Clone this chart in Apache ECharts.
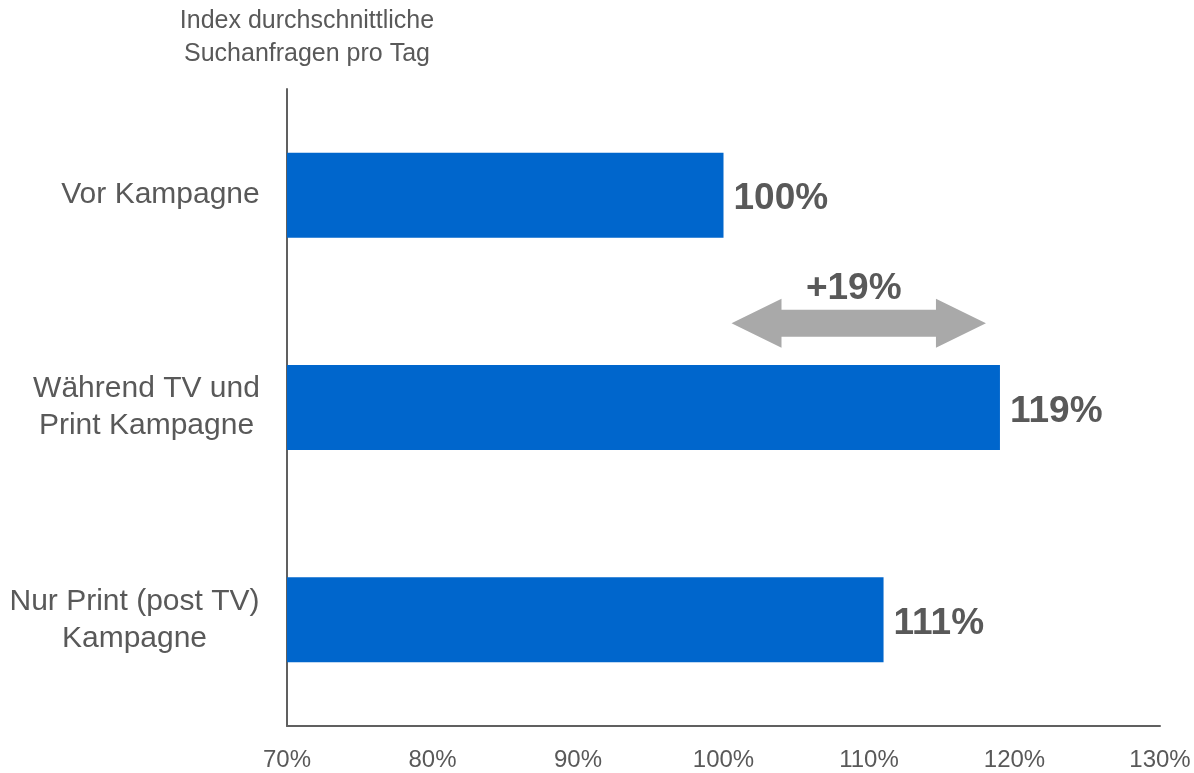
<!DOCTYPE html>
<html>
<head>
<meta charset="utf-8">
<script src="https://cdn.jsdelivr.net/npm/echarts@6/dist/echarts.min.js"></script>
<style>
  html, body { margin: 0; padding: 0; background: #ffffff; }
  #chart { width: 1194px; height: 773px; }
</style>
</head>
<body>
<div id="chart"></div>
<script>
// Campaign phases (top to bottom) and their search index values
const categories = ['Vor Kampagne', 'Während TV und\nPrint Kampagne', 'Nur Print (post TV)\nKampagne'];
const values = [100, 119, 111];
const xTicks = [70, 80, 90, 100, 110, 120, 130];
const axisTitle = 'Index durchschnittliche\nSuchanfragen pro Tag';
// Change highlighted by the double arrow: from phase 0 to phase 1
const changeFromIndex = 0;
const changeToIndex = 1;

const FONT = '"Liberation Sans", Arial, Helvetica, sans-serif';
const TEXT = '#595959';
const BAR = '#0066CC';
const ARROW = '#A9A9A9';
const CAT_SIZE = 30;

// Measure each category label so that multi-line labels are centred line by line
const ctx = document.createElement('canvas').getContext('2d');
ctx.font = CAT_SIZE + 'px ' + FONT;
const labelRich = {};
categories.forEach(function (c, i) {
  const w = Math.max.apply(null, c.split('\n').map(function (l) { return ctx.measureText(l).width; }));
  labelRich['c' + i] = { width: Math.ceil(w), align: 'center', fontSize: CAT_SIZE, lineHeight: 37, color: TEXT, fontFamily: FONT };
});

const fromVal = values[changeFromIndex];
const toVal = values[changeToIndex];
const changeLabel = '+' + (toVal - fromVal) + '%';

const chart = echarts.init(document.getElementById('chart'), null, { renderer: 'canvas' });

chart.setOption({
  animation: false,
  backgroundColor: '#ffffff',
  grid: { left: 287, right: 34, top: 89, bottom: 47, containLabel: false },
  graphic: [{
    type: 'text',
    x: 307,
    y: 5,
    style: {
      text: axisTitle,
      textAlign: 'center',
      font: '25px ' + FONT,
      lineHeight: 33,
      fill: TEXT
    }
  }],
  xAxis: {
    type: 'value',
    min: xTicks[0],
    max: xTicks[xTicks.length - 1],
    interval: xTicks[1] - xTicks[0],
    axisLine: { show: true, lineStyle: { color: '#606060', width: 2 } },
    axisTick: { show: false },
    splitLine: { show: false },
    axisLabel: {
      formatter: '{value}%',
      margin: 22,
      fontSize: 24,
      color: TEXT,
      fontFamily: FONT
    }
  },
  yAxis: {
    type: 'category',
    data: categories,
    inverse: true,
    axisLine: { show: true, lineStyle: { color: '#606060', width: 2 } },
    axisTick: { show: false },
    axisLabel: {
      margin: 27,
      align: 'right',
      formatter: function (value, index) {
        return value.split('\n').map(function (l) { return '{c' + index + '|' + l + '}'; }).join('\n');
      },
      rich: labelRich
    }
  },
  series: [
    {
      type: 'bar',
      data: values,
      barWidth: '40%',
      itemStyle: { color: BAR },
      label: {
        show: true,
        position: 'right',
        distance: 10,
        offset: [0, 4],
        formatter: '{c}%',
        fontSize: 37,
        fontWeight: 'bold',
        color: TEXT,
        fontFamily: FONT
      }
    },
    {
      type: 'custom',
      data: [[fromVal, toVal, changeToIndex]],
      encode: { x: [0, 1], y: 2 },
      z: 5,
      renderItem: function (params, api) {
        const cat = api.value(2);
        const a = api.coord([api.value(0), cat]);
        const b = api.coord([api.value(1), cat]);
        const band = api.size([0, 1])[1];
        const y = a[1] - band * 0.397;
        const x0 = a[0] + 8;
        const x1 = b[0] - 14;
        const head = 50, hh = 24.5, bh = 13.5;
        const pts = [
          [x0, y], [x0 + head, y - hh], [x0 + head, y - bh],
          [x1 - head, y - bh], [x1 - head, y - hh], [x1, y],
          [x1 - head, y + hh], [x1 - head, y + bh],
          [x0 + head, y + bh], [x0 + head, y + hh]
        ];
        return {
          type: 'group',
          children: [
            { type: 'polygon', shape: { points: pts }, style: { fill: ARROW } },
            {
              type: 'text',
              x: (x0 + x1) / 2 - 5,
              y: y - 34,
              style: {
                text: changeLabel,
                textAlign: 'center',
                textVerticalAlign: 'middle',
                font: 'bold 37px ' + FONT,
                fill: TEXT
              }
            }
          ]
        };
      }
    }
  ]
});
</script>
</body>
</html>
